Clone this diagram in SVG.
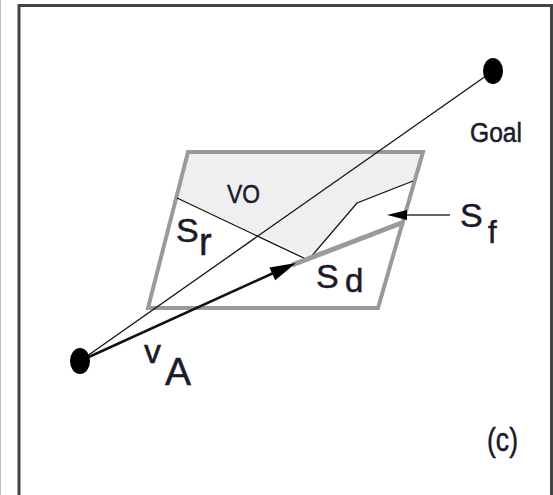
<svg xmlns="http://www.w3.org/2000/svg" width="553" height="495" viewBox="0 0 553 495">
<style>
.t{font-family:"Liberation Sans",Arial,sans-serif;fill:#1a1a2a;stroke:#1a1a2a;stroke-width:0.5}
.thin{stroke:#111;stroke-width:1.3;fill:none}
</style>
<rect width="553" height="495" fill="#fff"/>
<line x1="0.5" y1="0" x2="0.5" y2="495" stroke="#bbb" stroke-width="1"/>
<path d="M19,495 V5.5 H551.5 V495" fill="none" stroke="#444" stroke-width="3"/>

<g id="vo-region">
<polygon points="188,152 423,152 413,181 357,203 310,258 177,198" fill="#efefef"/>
<polygon points="188,152 423,152 378,308 148,308" fill="none" stroke="#9a9a9a" stroke-width="4"/>
</g>

<g id="connectors">
<line class="thin" x1="80" y1="361" x2="493" y2="71"/>
<line class="thin" x1="177" y1="198" x2="308" y2="260"/>
<polyline class="thin" points="310,258 357,203 413,181"/>
<line x1="292" y1="265" x2="404" y2="222" stroke="#9a9a9a" stroke-width="5"/>
<line x1="80" y1="361" x2="280" y2="270" stroke="#111" stroke-width="2.5"/>
<polygon points="296,263 275.2,280.2 269.4,267.4" fill="#000"/>
<line x1="450" y1="215" x2="402" y2="215" stroke="#333" stroke-width="1.3"/>
<polygon points="387,215 407,210 407,220" fill="#000"/>
</g>

<g id="goal">
<ellipse cx="493" cy="71" rx="10" ry="13" fill="#000"/>
<text class="t" x="470" y="142" font-size="27" textLength="52" lengthAdjust="spacingAndGlyphs">Goal</text>
</g>
<g id="agent">
<ellipse cx="80" cy="361" rx="10" ry="13" fill="#000"/>
</g>
<g id="label-vo"><text class="t" x="227" y="203" font-size="26" textLength="33" lengthAdjust="spacingAndGlyphs">VO</text></g>
<g id="label-sr"><text class="t" x="176" y="242" font-size="34">S</text><text class="t" x="199" y="255" font-size="38">r</text></g>
<g id="label-sd"><text class="t" x="316" y="288" font-size="34">S</text><text class="t" x="345" y="292" font-size="33">d</text></g>
<g id="label-sf"><text class="t" x="460" y="227" font-size="34">S</text><text class="t" x="488" y="243" font-size="31">f</text></g>
<g id="label-va"><text class="t" x="144" y="363" font-size="34">v</text><text class="t" x="165" y="385" font-size="39">A</text></g>
<g id="label-c"><text class="t" x="487" y="451" font-size="33" textLength="31" lengthAdjust="spacingAndGlyphs">(c)</text></g>
</svg>
